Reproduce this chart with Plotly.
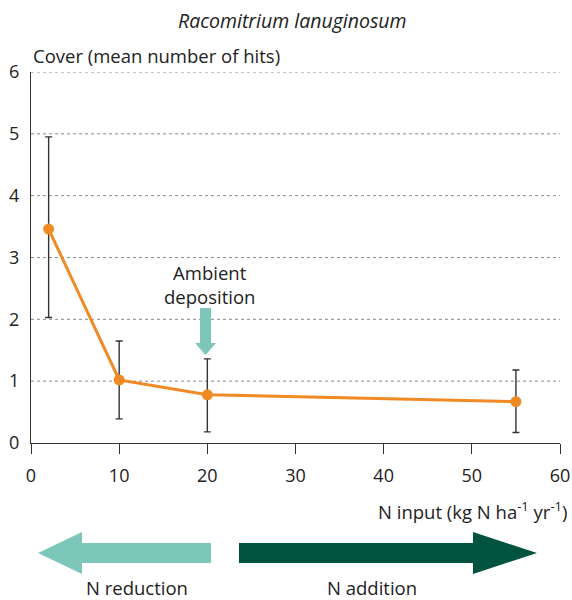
import plotly.graph_objects as go

# N input treatments and moss cover
n_input = [2, 10, 20, 55]
cover = [3.46, 1.02, 0.78, 0.67]
err_plus = [1.49, 0.63, 0.58, 0.51]
err_minus = [1.43, 0.63, 0.60, 0.50]

x_ticks = [0, 10, 20, 30, 40, 50, 60]
y_ticks = [0, 1, 2, 3, 4, 5, 6]

W, H = 572, 600
L, R, T, B = 31, 12, 72, 157
PW, PH = W - L - R, H - T - B

FONT = "Open Sans"
ORANGE = "#F08A24"
TEAL = "#7CC6BA"
DARK = "#00533F"
TEXT = "#222222"


def px(x):
    return (x - L) / PW


def py(y):
    return (H - B - y) / PH


def poly(points):
    return "M " + " L ".join(f"{px(a):.5f},{py(b):.5f}" for a, b in points) + " Z"


fig = go.Figure()

fig.add_trace(go.Scatter(
    x=n_input, y=cover, mode="lines+markers",
    line=dict(color=ORANGE, width=3),
    marker=dict(color=ORANGE, size=11),
    error_y=dict(type="data", symmetric=False, array=err_plus, arrayminus=err_minus,
                 color="#333333", thickness=1.4, width=3.5),
    showlegend=False, cliponaxis=False,
))

shapes = []
# dotted gridlines
for v in y_ticks[1:]:
    shapes.append(dict(type="line", xref="paper", yref="y", x0=0, x1=1, y0=v, y1=v,
                       line=dict(color="#8a8a8a", width=1, dash="dot"), layer="below"))

# ambient deposition marker arrow (pointing down at x=20)
shapes.append(dict(type="path", xref="paper", yref="paper", fillcolor=TEAL, line=dict(width=0),
                   path=poly([(200, 308), (211, 308), (211, 343), (216, 343),
                              (205.5, 355), (195, 343), (200, 343)])))

# N reduction arrow (left)
shapes.append(dict(type="path", xref="paper", yref="paper", fillcolor=TEAL, line=dict(width=0),
                   path=poly([(211, 543), (211, 563), (82, 563), (82, 574),
                              (38, 553), (82, 532), (82, 543)])))
# N addition arrow (right)
shapes.append(dict(type="path", xref="paper", yref="paper", fillcolor=DARK, line=dict(width=0),
                   path=poly([(239, 543), (473, 543), (473, 532), (537, 553),
                              (473, 574), (473, 563), (239, 563)])))


def label(text, x, y, anchor="center", size=18.5):
    return dict(text=text, xref="paper", yref="paper", x=px(x), y=py(y),
                xanchor=anchor, yanchor="middle", showarrow=False,
                font=dict(size=size, color=TEXT))


annotations = [
    label("<i>Racomitrium lanuginosum</i>", 292, 20, size=19.5),
    label("Cover (mean number of hits)", 31, 56, anchor="left"),
    label("N input (kg N ha<sup>-1</sup> yr<sup>-1</sup>)", 569, 510, anchor="right"),
    label("Ambient<br>deposition", 209, 284),
    label("N reduction", 137, 587),
    label("N addition", 372, 587),
]

fig.update_layout(
    width=W, height=H,
    margin=dict(l=L, r=R, t=T, b=B, autoexpand=False),
    paper_bgcolor="white", plot_bgcolor="white",
    font=dict(family=FONT, size=18, color=TEXT),
    shapes=shapes, annotations=annotations,
    xaxis=dict(range=[0, 60], tickvals=x_ticks, showgrid=False, zeroline=False,
               showline=True, linecolor="#333333", linewidth=1.4,
               ticks="outside", ticklen=10, tickwidth=1.4, tickcolor="#333333",
               ticklabelstandoff=6, tickfont=dict(size=18), automargin=False),
    yaxis=dict(range=[0, 6], tickvals=y_ticks, showgrid=False, zeroline=False,
               showline=True, linecolor="#333333", linewidth=1.4,
               ticks="", ticklabelstandoff=7, tickfont=dict(size=18), automargin=False),
)

fig.write_html("out.html")
